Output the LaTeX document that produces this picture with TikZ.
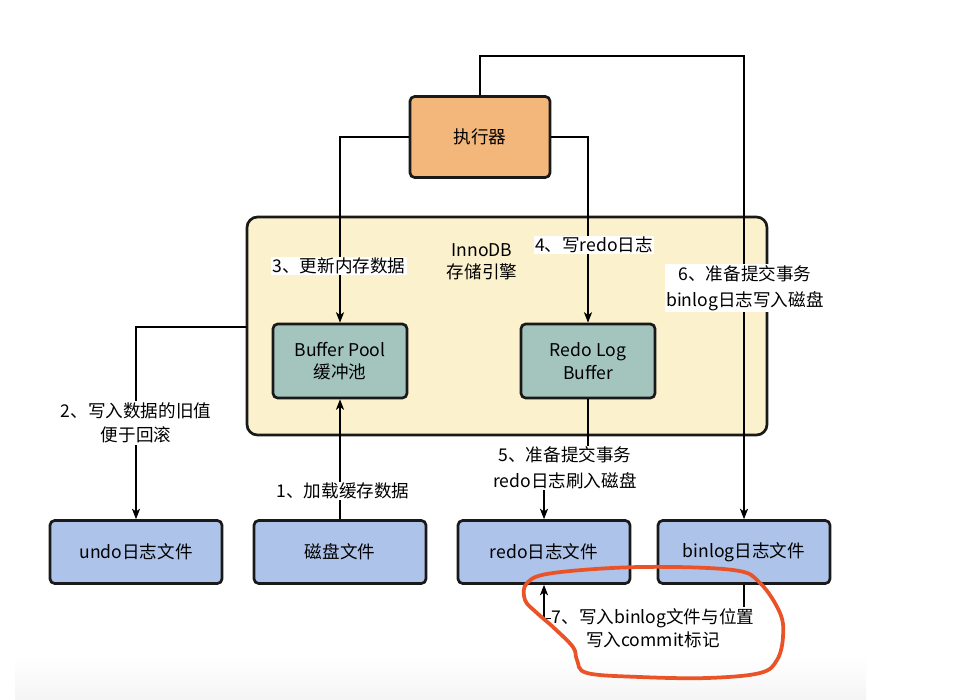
\documentclass[tikz,border=0pt]{standalone}
\usepackage{fontspec}
\setmainfont{Noto Sans CJK SC}
\usetikzlibrary{arrows.meta, positioning}
\definecolor{execorange}{HTML}{F3B77B}
\definecolor{enginefill}{HTML}{FCF1CD}
\definecolor{bufteal}{HTML}{A3C5BD}
\definecolor{fileblue}{HTML}{AEC3E9}
\definecolor{markred}{HTML}{EA5328}

\begin{document}
\begin{tikzpicture}[x=0.03cm, y=-0.03cm,
                    every node/.style={
                        font=\fontsize{15}{23}\selectfont
                    },
                    box/.style={
                        draw=black!90,
                        line width=2.3pt,
                        rounded corners=4pt,
                        minimum width=5.16cm,
                        minimum height=1.89cm,
                        align=center,
                        fill=fileblue
                    },
                    bufbox/.style={
                        box,
                        minimum width=4.02cm,
                        minimum height=2.22cm,
                        fill=bufteal
                    },
                    lbl/.style={
                        fill=white,
                        inner sep=1pt,
                        align=center
                    },
                    line/.style={
                        line width=1pt
                    },
                    arrow/.style={
                        line,
                        -{Stealth[length=9pt, width=7pt, inset=2.5pt]}
                    }
                ]

                % Fond et cadre
                \useasboundingbox (0,0) rectangle (953,699);
                \shade[top color=white, bottom color=gray!8] (15,655) rectangle (866,699);

                % Moteur InnoDB
                \node[box, fill=enginefill, rounded corners=9pt,
                      minimum width=15.6cm, minimum height=6.54cm] (innodb) at (507,326) {};
                \node[align=center] (innotext) at (482,262) {InnoDB\\[-4pt]存储引擎};

                % Executeur
                \node[box, fill=execorange, minimum width=4.2cm, minimum height=2.43cm] (exec) at (480,137) {执行器};

                % Tampons en memoire
                \node[bufbox] (bufpool) at (340,361) {Buffer Pool\\[-4pt]缓冲池};
                \node[bufbox] (redobuf) at (588,361) {Redo Log\\[-4pt]Buffer};

                % Fichiers sur disque
                \node[box] (undofile) at (136,552) {undo日志文件};
                \node[box] (diskfile) at (340,552) {磁盘文件};
                \node[box] (redofile) at (544,552) {redo日志文件};
                \node[box] (binfile) at (744,552) {binlog日志文件};

                % Connecteurs
                \coordinate (bintop) at (480,56);
                \draw[arrow] (exec.north) |- (bintop -| binfile.north) -- (binfile.north);
                \draw[arrow] (exec.west) -| (bufpool.north);
                \draw[arrow] (exec.east) -| (redobuf.north);
                \draw[arrow] (innodb.west |- 0,327) -| (undofile.north);
                \draw[arrow] (diskfile.north) -- (bufpool.south);
                \draw[arrow] (redobuf.south) -- ++(0,70) -| (redofile.north);
                \draw[arrow] (binfile.south) -- ++(0,34) -| (redofile.south);

                % Etiquettes
                \node[lbl] (step1) at (343,491) {1、加载缓存数据};
                \node[lbl] (step2) at (136,423) {2、写入数据的旧值\\[-2pt]便于回滚};
                \node[lbl] (step3) at (339,266) {3、更新内存数据};
                \node[lbl] (step4) at (594,245) {4、写redo日志};
                \node[lbl] (step5) at (565,468) {5、准备提交事务\\[-1pt]redo日志刷入磁盘};
                \node[lbl] (step6) at (745,288) {6、准备提交事务\\[-1pt]binlog日志写入磁盘};
                \node[lbl] (step7) at (653,628) {7、写入binlog文件与位置\\[-3pt]写入commit标记};

                % Trait rouge a main levee
                \draw[markred, line width=3.2pt, line cap=round] plot[smooth cycle, tension=0.6] coordinates {
                    (527,583) (553,573) (640,567) (733,570) (760,583) (780,613) (783,637)
                    (777,660) (760,673) (707,678) (640,677) (587,673) (577,660) (573,647)
                    (553,627) (537,613) (525,600)};

            \end{tikzpicture}
\end{document}
